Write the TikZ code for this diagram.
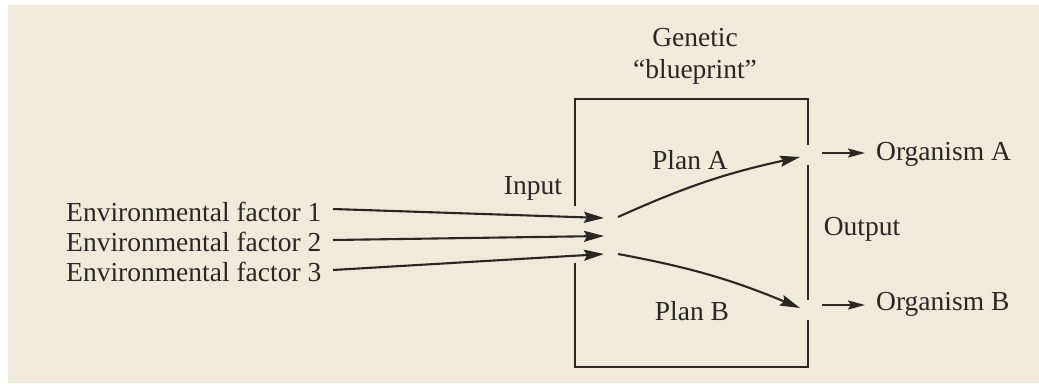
\documentclass[tikz,border=0pt]{standalone}
\usepackage{fontspec}
\setmainfont{Liberation Serif}
\usetikzlibrary{arrows.meta}
\definecolor{paper}{RGB}{238,235,219}
\definecolor{ink}{RGB}{42,38,34}
\tikzset{
  lbl/.style={text=ink, inner sep=0pt, font=\fontsize{27.5}{31}\selectfont},
  conn/.style={draw=ink, line width=2.1pt, -{Stealth[length=20pt,width=11pt,inset=3pt]}},
  small/.style={draw=ink, line width=2.1pt, -{Stealth[length=17pt,width=9pt,inset=3pt]}},
  frame/.style={draw=ink, line width=2.1pt}
}
\begin{document}
\begin{tikzpicture}[x=1pt,y=-1pt]
\fill[white] (0,0) rectangle (1039,383);
\fill[paper] (8,5) rectangle (1039,383);
\useasboundingbox (0,0) rectangle (1039,383);
% labels
\node[lbl, anchor=west] (env1) at (66,212) {Environmental factor 1};
\node[lbl, anchor=west] (env2) at (66,242) {Environmental factor 2};
\node[lbl, anchor=west] (env3) at (66,272) {Environmental factor 3};
\node[lbl] (gen) at (695,38) {Genetic};
\node[lbl] (blue) at (695,72) {``blueprint''};
\node[lbl] (input) at (533,188) {Input};
\node[lbl] (output) at (862,229) {Output};
\node[lbl] (planA) at (690,160) {Plan A};
\node[lbl] (planB) at (692,311) {Plan B};
\node[lbl, anchor=west] (orgA) at (876,154) {Organism A};
\node[lbl, anchor=west] (orgB) at (876,304) {Organism B};
% frame
\coordinate (tl) at (575,99);
\coordinate (tr) at (808,99);
\coordinate (bl) at (575,367);
\coordinate (br) at (808,367);
\draw[frame] (575,206) -- (tl) -- (tr) -- (808,145);
\draw[frame] (808,165) -- (808,300);
\draw[frame] (808,320) -- (br) -- (bl) -- (575,263);
% input arrows
\coordinate (s1) at (333,209);
\coordinate (s2) at (333,240);
\coordinate (s3) at (333,270);
\coordinate (in1) at (604,218);
\coordinate (in2) at (604,236);
\coordinate (in3) at (604,254);
\draw[conn] (s1) -- (in1);
\draw[conn] (s2) -- (in2);
\draw[conn] (s3) -- (in3);
% plans
\coordinate (pa0) at (618,217);
\coordinate (pa1) at (800,157);
\coordinate (pb0) at (618,254);
\coordinate (pb1) at (800,308);
\draw[conn] (pa0) to[bend left=6] (pa1);
\draw[conn] (pb0) to[bend left=6] (pb1);
% outputs
\coordinate (oa0) at (822,153);
\coordinate (oa1) at (865,153);
\coordinate (ob0) at (822,305);
\coordinate (ob1) at (865,305);
\draw[small] (oa0) -- (oa1);
\draw[small] (ob0) -- (ob1);
\end{tikzpicture}
\end{document}
